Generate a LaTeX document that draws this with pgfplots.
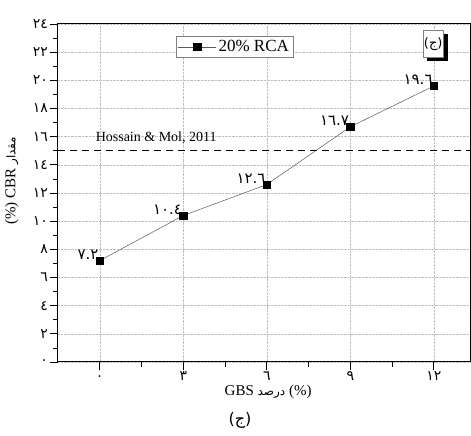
\documentclass[border=0pt]{standalone}
\usepackage{pgfplots}
\pgfplotsset{compat=1.18}
\usepackage{fontspec}
\setmainfont{Liberation Serif}
\newfontfamily\arabicfont[Script=Arabic]{DejaVu Sans}
\usetikzlibrary{shadows}
\TeXXeTstate=1
\begin{document}
\begin{tikzpicture}
\begin{axis}[
 scale only axis, width=412pt, height=338pt,
 xmin=-1.5, xmax=13.3, ymin=0, ymax=24,
 xtick={0,3,6,9,12}, xticklabels={٠,٣,٦,٩,١٢}, minor x tick num=1,
 ytick={0,2,...,24}, yticklabels={٠,٢,٤,٦,٨,١٠,١٢,١٤,١٦,١٨,٢٠,٢٢,٢٤}, minor y tick num=1,
 tick pos=left, tick align=outside,
 major tick length=8pt, minor tick length=5pt,
 grid=major, grid style={densely dotted, gray!50},
 axis line style={black, line width=1pt},
 tick style={black, line width=0.8pt},
 ticklabel style={font=\arabicfont\fontsize{14}{14}\selectfont},
 xticklabel style={anchor=north, text height=8pt, text depth=0pt, inner sep=1pt, yshift=-1pt},
 yticklabel style={inner sep=2pt},
 xlabel={GBS {\arabicfont\fontsize{12}{12}\selectfont\beginR درصد\endR} (\%)},
 ylabel={(\%) CBR {\arabicfont\fontsize{12}{12}\selectfont\beginR مقدار\endR}},
 label style={font=\fontsize{15}{17}\selectfont},
 xlabel style={at={(axis description cs:0.510,-0.089)}, anchor=center},
 ylabel style={at={(axis description cs:-0.112,0.536)}, anchor=center},
 legend style={at={(0.286,0.964)}, anchor=north west, draw=gray, font=\fontsize{17}{19}\selectfont, inner sep=2pt},
 legend cell align=left,
 legend image code/.code={\draw[mark repeat=2, mark phase=2, #1] plot coordinates {(0pt,0pt) (19pt,0pt) (38pt,0pt)};},
]
\addplot[gray!70!black, line width=0.5pt, mark=square*, mark options={black, solid}, mark size=3.6pt,
  nodes near coords, point meta=explicit symbolic,
  every node near coord/.append style={anchor=south east, font=\arabicfont\fontsize{15}{15}\selectfont, black, inner sep=1pt}]
  coordinates {(0,7.2) [٧.٢] (3,10.4) [١٠.٤] (6,12.6) [١٢.٦] (9,16.7) [١٦.٧] (12,19.6) [١٩.٦]};
\addlegendentry{20\% RCA}
\addplot[black, line width=1.2pt, dash pattern=on 7pt off 5pt, forget plot] coordinates {(-1.5,15) (13.3,15)};
\node[anchor=west, font=\fontsize{14}{16}\selectfont] at (axis cs:-0.27,15.9) {Hossain \& Mol, 2011};
\node[draw=gray, fill=white, drop shadow={shadow xshift=4pt, shadow yshift=-4pt, fill=black, opacity=1}, font=\arabicfont\fontsize{13}{13}\selectfont, minimum width=20pt, minimum height=27pt, inner sep=1pt] at (axis cs:11.98,22.6) {(ج)};
\end{axis}
\node[font=\arabicfont\fontsize{16}{16}\selectfont] at ([shift={(182pt,-58pt)}]current axis.south west) {(ج)};
\pgfresetboundingbox
\path ([shift={(-58pt,-74pt)}]current axis.south west) rectangle ([shift={(1pt,24pt)}]current axis.north east);
\end{tikzpicture}
\end{document}
